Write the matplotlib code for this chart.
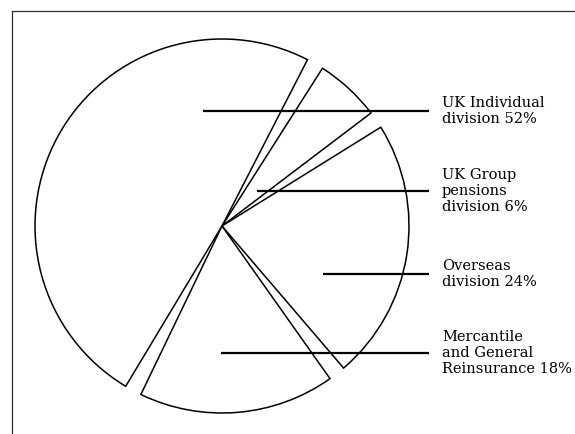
import numpy as np
import matplotlib
matplotlib.use("Agg")
import matplotlib.pyplot as plt

# Data
labels = ["UK Individual\ndivision 52%", "UK Group\npensions\ndivision 6%",
          "Overseas\ndivision 24%", "Mercantile\nand General\nReinsurance 18%"]
shares = [52, 6, 24, 18]
gap = 1.56  # blank slice between wedges (same units as shares)

# leader lines: (x start, y) in pixels, y from top
leader_start = [203, 257, 323, 221]
leader_y = [111, 191, 274, 353]

W, H = 575, 434
fig = plt.figure(figsize=(W / 100, H / 100), dpi=100)
ax = fig.add_axes([0, 0, 1, 1])

vals = []
for s in shares:
    vals += [s, gap]

wedges, _ = ax.pie(vals, center=(222, H - 226), radius=187, startangle=239,
                   counterclock=False, frame=True,
                   wedgeprops=dict(facecolor="white", edgecolor="black", linewidth=1.1))
for i, w in enumerate(wedges):
    if i % 2 == 1:
        w.set_visible(False)

for lab, x0, y in zip(labels, leader_start, leader_y):
    ax.plot([x0, 429], [H - y, H - y], color="black", lw=1.6, solid_capstyle="butt")
    ax.text(442, H - y, lab, ha="left", va="center", fontsize=10.5,
            family="DejaVu Serif", linespacing=1.22, color="black")

# frame
ax.plot([12, 12], [H - 11, 0], color="#333333", lw=0.9)
ax.plot([12, W], [H - 11, H - 11], color="#333333", lw=0.9)

ax.set_xlim(0, W)
ax.set_ylim(0, H)
ax.set_aspect("equal")
ax.axis("off")

fig.savefig("out.png", dpi=100)
